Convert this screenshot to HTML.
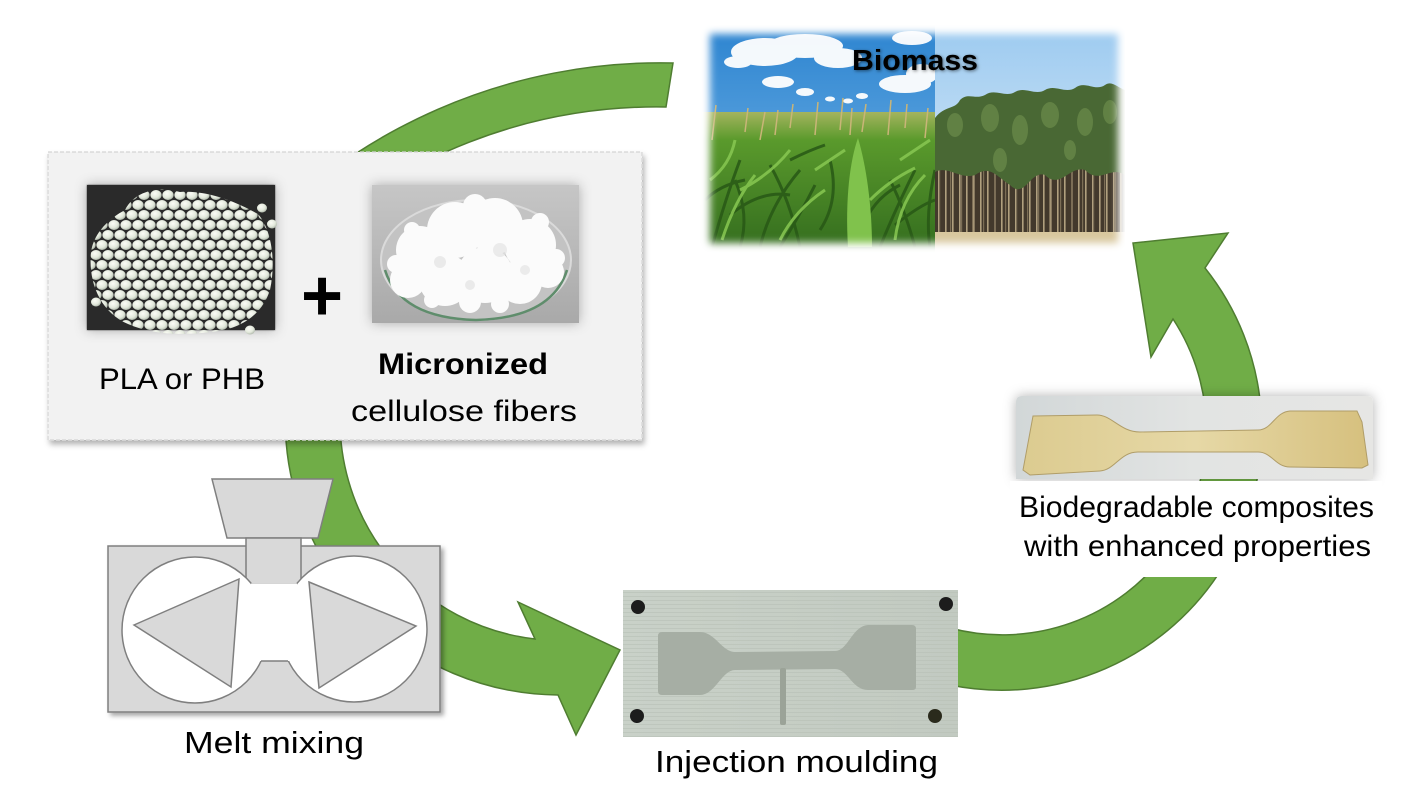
<!DOCTYPE html>
<html><head><meta charset="utf-8">
<style>
html,body{margin:0;padding:0;background:#fff;}
svg{display:block;}
text{font-family:"Liberation Sans",sans-serif;fill:#000;}
</style></head><body>
<svg width="1412" height="809" viewBox="0 0 1412 809" xmlns="http://www.w3.org/2000/svg">
<defs>
 <filter id="sh" x="-10%" y="-10%" width="130%" height="130%"><feDropShadow dx="2" dy="4" stdDeviation="3" flood-color="#000" flood-opacity="0.3"/></filter>
 <filter id="sh2" x="-10%" y="-10%" width="130%" height="130%"><feDropShadow dx="3" dy="3" stdDeviation="2.5" flood-color="#000" flood-opacity="0.35"/></filter>
 <filter id="glow" x="-20%" y="-40%" width="140%" height="180%"><feDropShadow dx="0" dy="0" stdDeviation="6" flood-color="#000" flood-opacity="0.3"/></filter>
 <filter id="bl5" x="-20%" y="-20%" width="140%" height="140%"><feGaussianBlur stdDeviation="4"/></filter>
 <filter id="bl1"><feGaussianBlur stdDeviation="0.8"/></filter>
 <filter id="tsh" x="-10%" y="-30%" width="120%" height="160%"><feDropShadow dx="1" dy="1" stdDeviation="1.5" flood-color="#000" flood-opacity="0.5"/></filter>
 <radialGradient id="pelg" cx="0.4" cy="0.35" r="0.7">
  <stop offset="0" stop-color="#fbfcf6"/><stop offset="0.6" stop-color="#e3e9dc"/><stop offset="1" stop-color="#aab3a6"/>
 </radialGradient>
 <pattern id="pel" width="12" height="20" patternUnits="userSpaceOnUse">
  <ellipse cx="6" cy="5" rx="5.6" ry="5" fill="url(#pelg)"/>
  <ellipse cx="0" cy="15" rx="5.6" ry="5" fill="url(#pelg)"/>
  <ellipse cx="12" cy="15" rx="5.6" ry="5" fill="url(#pelg)"/>
 </pattern>
 <clipPath id="pile"><path d="M125,210 C135,190 160,186 180,192 C210,190 240,204 258,214 C272,230 276,262 270,290 C262,315 240,330 210,332 C180,336 150,334 128,324 C100,312 88,282 91,252 C94,232 110,218 125,210 Z"/></clipPath>
 <linearGradient id="cellbg" x1="0" y1="0" x2="0" y2="1"><stop offset="0" stop-color="#c6c6c6"/><stop offset="1" stop-color="#a9a9a9"/></linearGradient>
 <linearGradient id="sky1" x1="0" y1="0" x2="0" y2="1"><stop offset="0" stop-color="#2c84d0"/><stop offset="1" stop-color="#7cb8e8"/></linearGradient>
 <linearGradient id="sky2" x1="0" y1="0" x2="0" y2="1"><stop offset="0" stop-color="#9ccaf0"/><stop offset="1" stop-color="#e2eff9"/></linearGradient>
 <linearGradient id="corn" x1="0" y1="0" x2="0" y2="1"><stop offset="0" stop-color="#a4b45e"/><stop offset="0.2" stop-color="#5a9a2c"/><stop offset="1" stop-color="#336c1e"/></linearGradient>
 <pattern id="trk" width="7" height="120" patternUnits="userSpaceOnUse"><rect x="0" y="0" width="1.6" height="120" fill="#b0a07e"/></pattern>
 <pattern id="trk2" width="11" height="120" patternUnits="userSpaceOnUse"><rect x="4" y="0" width="1.2" height="120" fill="#7c6e56"/></pattern>
 <mask id="bm" maskUnits="userSpaceOnUse" x="680" y="10" width="470" height="260"><rect x="710" y="34" width="408" height="209" fill="#fff" filter="url(#bl5)"/></mask>
 <linearGradient id="inj" x1="0" y1="0" x2="1" y2="0"><stop offset="0" stop-color="#c9d1c8"/><stop offset="1" stop-color="#c2cac1"/></linearGradient>
 <pattern id="brush" width="20" height="4" patternUnits="userSpaceOnUse"><rect x="0" y="0" width="20" height="1" fill="#b7c0b6" opacity="0.6"/></pattern>
 <linearGradient id="comp" x1="0" y1="0" x2="1" y2="0"><stop offset="0" stop-color="#d2d7d8"/><stop offset="0.5" stop-color="#e2e4e3"/><stop offset="1" stop-color="#e6e6e4"/></linearGradient>
 <linearGradient id="dog" x1="0" y1="0" x2="1" y2="0"><stop offset="0" stop-color="#dccb90"/><stop offset="0.5" stop-color="#e6d8a6"/><stop offset="1" stop-color="#d6c07e"/></linearGradient>
</defs>
<rect width="1412" height="809" fill="#fff"/>

<!-- top arc -->
<path d="M244,250 A557 557 0 0 1 673,63 L666,107 A516 516 0 0 0 300,250 Z" fill="#70ad47" stroke="#4f7d31" stroke-width="1.5"/>

<!-- bottom-left arrow -->
<path d="M286,400 A275 275 0 0 0 558,695 L576,735 L620,650 L518,602 L535,639 A220 220 0 0 1 341,400 Z" fill="#70ad47" stroke="#4f7d31" stroke-width="1.5"/>

<!-- right arrow -->
<path d="M950,685 A260 260 0 0 0 1205,268 L1228,233 L1133,243 L1151,357 L1173,319 A204 204 0 0 1 950,628 Z" fill="#70ad47" stroke="#4f7d31" stroke-width="1.5"/>

<!-- gray box -->
<rect x="48" y="152" width="594" height="288" fill="#f2f2f2" stroke="#d4d4d4" stroke-width="1.2" stroke-dasharray="4 2" filter="url(#sh)"/>

<!-- PLA image -->
<g filter="url(#glow)"><rect x="87" y="185" width="188" height="145" fill="#2a2a2a"/></g>
<rect x="87" y="185" width="188" height="145" fill="#2b2b2b" filter="url(#bl1)"/>
<g clip-path="url(#pile)"><rect x="85" y="183" width="195" height="155" fill="url(#pel)"/></g>
<ellipse cx="262" cy="208" rx="5" ry="4.5" fill="url(#pelg)"/>
<ellipse cx="272" cy="224" rx="5" ry="4.5" fill="url(#pelg)"/>
<ellipse cx="96" cy="302" rx="5" ry="4.5" fill="url(#pelg)"/>
<ellipse cx="250" cy="330" rx="5" ry="4.5" fill="url(#pelg)"/>

<!-- plus -->
<text x="322" y="320" font-size="72" font-weight="bold" text-anchor="middle">+</text>

<!-- cellulose image -->
<g filter="url(#glow)"><rect x="372" y="185" width="207" height="138" fill="url(#cellbg)"/></g>
<ellipse cx="476" cy="260" rx="95" ry="60" fill="#c3c3c3" stroke="#dadada" stroke-width="2"/>
<path d="M385,270 Q400,318 476,320 Q552,318 567,270" fill="none" stroke="#5f8d6c" stroke-width="2.5"/>
<g fill="#fbfbfb">
 <circle cx="420" cy="250" r="24"/><circle cx="455" cy="230" r="28"/><circle cx="495" cy="226" r="28"/>
 <circle cx="530" cy="245" r="26"/><circle cx="548" cy="272" r="16"/><circle cx="408" cy="280" r="18"/>
 <circle cx="445" cy="280" r="26"/><circle cx="485" cy="275" r="28"/><circle cx="520" cy="282" r="22"/>
 <circle cx="470" cy="302" r="11"/><circle cx="500" cy="304" r="9"/><circle cx="396" cy="264" r="9"/>
 <circle cx="475" cy="206" r="12"/><circle cx="556" cy="258" r="9"/><circle cx="432" cy="300" r="8"/>
 <circle cx="540" cy="222" r="9"/><circle cx="412" cy="230" r="8"/>
</g>
<g fill="#e4e4e4" opacity="0.7">
 <circle cx="440" cy="262" r="6"/><circle cx="500" cy="250" r="7"/><circle cx="470" cy="285" r="5"/><circle cx="525" cy="270" r="5"/>
</g>

<!-- gray box texts -->
<text x="99" y="389" font-size="30" textLength="166" lengthAdjust="spacingAndGlyphs">PLA or PHB</text>
<text x="378" y="374" font-size="30" font-weight="bold" textLength="170" lengthAdjust="spacingAndGlyphs">Micronized</text>
<text x="351" y="421" font-size="30" textLength="226" lengthAdjust="spacingAndGlyphs">cellulose fibers</text>

<!-- mixer -->
<rect x="108" y="546" width="332" height="166" fill="#d9d9d9" stroke="#7f7f7f" stroke-width="1.5" filter="url(#sh2)"/>
<polygon points="212,479 333,479 318,538 227,538" fill="#d9d9d9" stroke="#7f7f7f" stroke-width="1.5"/>
<rect x="246" y="538" width="55" height="46" fill="#d9d9d9" stroke="#7f7f7f" stroke-width="1.5"/>
<circle cx="195" cy="630" r="73" fill="#fff" stroke="#7f7f7f" stroke-width="1.5"/>
<circle cx="354" cy="629" r="73" fill="#fff" stroke="#7f7f7f" stroke-width="1.5"/>
<rect x="251" y="583.5" width="46" height="77.5" fill="#fff"/>
<line x1="261" y1="661" x2="288" y2="661" stroke="#7f7f7f" stroke-width="1.5"/>
<polygon points="134,625 239,579 231,687" fill="#d9d9d9" stroke="#7f7f7f" stroke-width="1.5"/>
<polygon points="309,582 416,626 319,688" fill="#d9d9d9" stroke="#7f7f7f" stroke-width="1.5"/>
<text x="184" y="753" font-size="31" textLength="180" lengthAdjust="spacingAndGlyphs">Melt mixing</text>

<!-- injection image -->
<rect x="623" y="590" width="335" height="147" fill="url(#inj)"/>
<rect x="623" y="590" width="335" height="147" fill="url(#brush)"/>
<path d="M662,632 L700,632 C715,632 722,652 735,652 L835,651 C848,651 852,626 868,625 L912,625 Q916,625 916,629 L916,687 Q916,690 912,690 L868,690 C852,690 848,669 835,669 L735,670 C722,670 715,695 700,695 L662,695 Q658,695 658,691 L658,636 Q658,632 662,632 Z" fill="#a6aea4"/>
<rect x="780" y="668" width="6" height="57" rx="2" fill="#9ba398"/>
<circle cx="638" cy="607" r="7" fill="#1c1c1c"/><circle cx="946" cy="604" r="7" fill="#1c1c1c"/>
<circle cx="637" cy="716" r="7" fill="#1c1c1c"/><circle cx="935" cy="716" r="7" fill="#2a2a1c"/>
<text x="655" y="772" font-size="31" textLength="283" lengthAdjust="spacingAndGlyphs">Injection moulding</text>

<!-- composite image -->
<g filter="url(#glow)"><path d="M1022,396 L1367,396 Q1373,396 1373,402 L1373,479 L1016,479 L1016,402 Q1016,396 1022,396 Z" fill="url(#comp)"/></g>
<path d="M1033,416 L1097,415 C1112,415 1120,432 1140,432 L1258,430 C1272,430 1275,412 1290,411 L1357,411 L1362,422 L1368,465 L1362,468 L1290,467 C1275,467 1272,452 1258,452 L1138,452 C1120,452 1115,470 1100,471 L1030,475 L1023,470 Z" fill="url(#dog)" stroke="#b09d68" stroke-width="1"/>

<!-- text bg -->
<rect x="1010" y="481" width="372" height="96" fill="#fff"/>
<text x="1019" y="517" font-size="30" textLength="355" lengthAdjust="spacingAndGlyphs">Biodegradable composites</text>
<text x="1024" y="556" font-size="30" textLength="347" lengthAdjust="spacingAndGlyphs">with enhanced properties</text>

<!-- biomass image -->
<g mask="url(#bm)">
 <rect x="700" y="25" width="240" height="230" fill="url(#sky1)"/>
 <g fill="#fff" opacity="0.95">
  <ellipse cx="765" cy="52" rx="34" ry="14"/><ellipse cx="805" cy="46" rx="38" ry="12"/><ellipse cx="838" cy="58" rx="24" ry="10"/>
  <ellipse cx="738" cy="62" rx="14" ry="6"/><ellipse cx="778" cy="82" rx="16" ry="6"/><ellipse cx="805" cy="92" rx="9" ry="4"/>
  <ellipse cx="905" cy="84" rx="26" ry="9"/><ellipse cx="922" cy="74" rx="16" ry="10"/><ellipse cx="912" cy="38" rx="20" ry="7"/>
  <ellipse cx="830" cy="99" rx="5" ry="2.5"/><ellipse cx="848" cy="101" rx="5" ry="2.5"/><ellipse cx="862" cy="96" rx="6" ry="3"/>
 </g>
 <rect x="700" y="112" width="236" height="140" fill="url(#corn)"/>
 <g stroke="#c9b577" stroke-width="1.5" fill="none">
  <path d="M712,140 L716,105"/><path d="M745,132 L748,108"/><path d="M760,140 L765,112"/><path d="M790,128 L793,104"/>
  <path d="M815,135 L818,102"/><path d="M840,130 L843,98"/><path d="M862,132 L866,104"/><path d="M888,135 L891,100"/>
  <path d="M905,128 L907,104"/><path d="M925,138 L928,108"/><path d="M775,135 L778,110"/><path d="M850,135 L852,108"/>
 </g>
 <g stroke="#285816" stroke-width="3" fill="none" opacity="0.85">
  <path d="M712,247 Q725,200 740,160"/><path d="M760,247 Q770,205 800,170"/><path d="M800,247 Q790,200 770,165"/>
  <path d="M880,247 Q895,210 915,170"/><path d="M915,247 Q905,210 890,180"/><path d="M730,215 Q760,190 790,195"/>
  <path d="M820,230 Q840,200 830,160"/><path d="M895,225 Q920,205 935,200"/><path d="M740,247 Q750,215 735,180"/>
  <path d="M780,247 Q800,215 815,185"/><path d="M930,247 Q925,215 935,170"/><path d="M705,200 Q720,185 745,180"/>
  <path d="M860,235 Q870,200 900,185"/><path d="M790,160 Q810,150 825,145"/>
 </g>
 <g stroke="#88c852" stroke-width="3" fill="none" opacity="0.85">
  <path d="M722,240 Q735,200 755,175"/><path d="M780,240 Q795,210 825,190"/><path d="M895,240 Q900,200 925,175"/>
  <path d="M740,190 Q770,175 790,150"/><path d="M870,200 Q890,180 915,168"/><path d="M710,180 Q730,165 735,140"/>
  <path d="M815,170 Q830,160 845,150"/><path d="M900,160 Q915,150 930,140"/>
 </g>
 <path d="M848,247 C845,200 850,160 858,138 C866,165 872,205 872,247 Z" fill="#80c24c"/>
 <rect x="935" y="25" width="190" height="230" fill="url(#sky2)"/>
 <rect x="935" y="150" width="190" height="95" fill="#43392c"/>
 <rect x="935" y="150" width="190" height="88" fill="url(#trk)"/>
 <rect x="935" y="150" width="190" height="88" fill="url(#trk2)"/>
 <path d="M935,118 C945,105 955,110 960,100 C968,92 975,100 985,95 C995,88 1005,98 1015,92 C1025,86 1035,96 1045,90 C1055,84 1065,94 1075,88 C1085,80 1095,92 1105,85 C1112,80 1118,88 1125,90 L1125,175 C1110,165 1100,185 1085,170 C1070,165 1060,190 1045,175 C1030,170 1025,200 1010,185 C995,175 990,165 975,175 C960,180 948,165 935,172 Z" fill="#496834"/>
 <g fill="#688848" opacity="0.8">
  <ellipse cx="955" cy="125" rx="8" ry="12"/><ellipse cx="990" cy="118" rx="9" ry="14"/><ellipse cx="1020" cy="130" rx="8" ry="15"/>
  <ellipse cx="1050" cy="115" rx="9" ry="13"/><ellipse cx="1085" cy="122" rx="8" ry="14"/><ellipse cx="1110" cy="112" rx="7" ry="12"/>
  <ellipse cx="1000" cy="160" rx="7" ry="12"/><ellipse cx="1070" cy="150" rx="6" ry="10"/>
 </g>
 <rect x="935" y="232" width="190" height="20" fill="#d8c79e"/>
</g>
<text x="852" y="70" font-size="29" font-weight="bold" textLength="126" lengthAdjust="spacingAndGlyphs" filter="url(#tsh)">Biomass</text>
</svg>
</body></html>
